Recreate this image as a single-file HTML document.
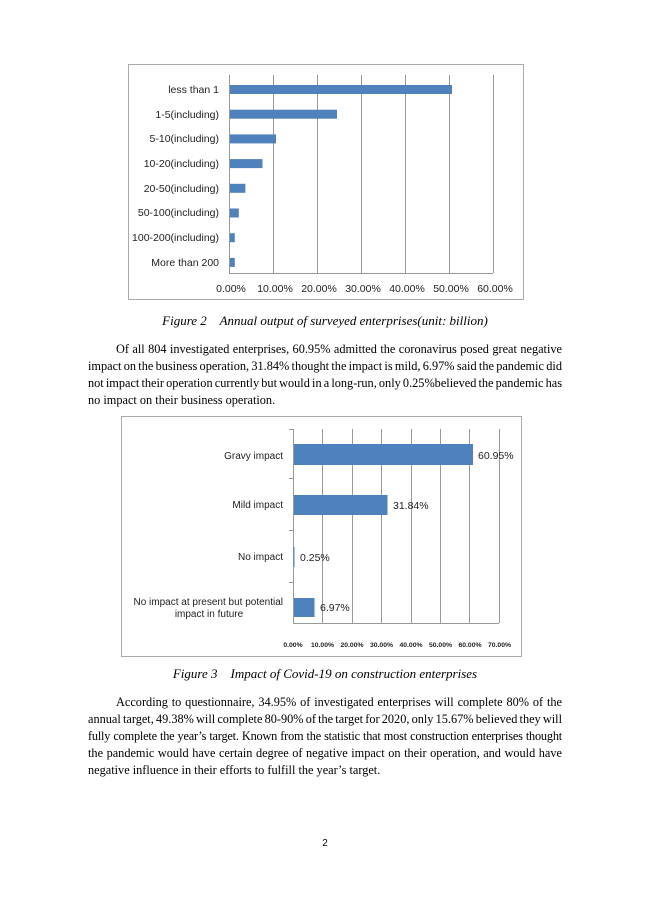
<!DOCTYPE html>
<html><head><meta charset="utf-8"><style>
body{margin:0;width:650px;height:919px;background:#fff;position:relative;overflow:hidden;font-family:"Liberation Serif",serif;color:#000}
.l{position:absolute;left:88px;width:474px;height:16px;overflow:visible;font-size:12.3px;word-spacing:-1.5px;line-height:16px;text-align:justify;text-align-last:justify;white-space:normal}
.l.e{text-align-last:left;word-spacing:0}
.c{position:absolute;left:0;width:650px;text-align:center;font-size:13px;font-style:italic;line-height:16px}
svg{position:absolute;left:0;top:0}
svg text{font-family:"Liberation Sans",sans-serif;fill:#222}
</style></head><body>
<svg width="650" height="919">
<rect x="128.5" y="64.5" width="395" height="235" fill="#fff" stroke="#aaa"/>
<g stroke="#999" stroke-width="1">
<line x1="229.5" y1="75" x2="229.5" y2="273"/>
<line x1="273.5" y1="75" x2="273.5" y2="273"/>
<line x1="317.5" y1="75" x2="317.5" y2="273"/>
<line x1="361.5" y1="75" x2="361.5" y2="273"/>
<line x1="405.5" y1="75" x2="405.5" y2="273"/>
<line x1="449.5" y1="75" x2="449.5" y2="273"/>
<line x1="493.5" y1="75" x2="493.5" y2="273"/>
<line x1="229" y1="273.5" x2="493" y2="273.5"/>
</g>
<g fill="#4f81bd">
<rect x="230" y="85" width="222" height="9"/>
<rect x="230" y="109.7" width="107" height="9"/>
<rect x="230" y="134.4" width="46" height="9"/>
<rect x="230" y="159.1" width="32.5" height="9"/>
<rect x="230" y="183.8" width="15.4" height="9"/>
<rect x="230" y="208.5" width="8.8" height="9"/>
<rect x="230" y="233.2" width="4.8" height="9"/>
<rect x="230" y="257.9" width="4.8" height="9"/>
</g>
<g font-size="10.5" text-anchor="end">
<text x="219" y="93">less than 1</text>
<text x="219" y="118">1-5(including)</text>
<text x="219" y="142">5-10(including)</text>
<text x="219" y="167">10-20(including)</text>
<text x="219" y="192">20-50(including)</text>
<text x="219" y="216">50-100(including)</text>
<text x="219" y="241">100-200(including)</text>
<text x="219" y="266">More than 200</text>
</g>
<g font-size="10.5" text-anchor="middle">
<text x="231" y="292">0.00%</text><text x="275" y="292">10.00%</text><text x="319" y="292">20.00%</text><text x="363" y="292">30.00%</text><text x="407" y="292">40.00%</text><text x="451" y="292">50.00%</text><text x="495" y="292">60.00%</text>
</g>

<rect x="121.5" y="416.5" width="400" height="240" fill="#fff" stroke="#aaa"/>
<g stroke="#999">
<line x1="322.5" y1="429" x2="322.5" y2="623"/>
<line x1="352.5" y1="429" x2="352.5" y2="623"/>
<line x1="381.5" y1="429" x2="381.5" y2="623"/>
<line x1="411.5" y1="429" x2="411.5" y2="623"/>
<line x1="440.5" y1="429" x2="440.5" y2="623"/>
<line x1="469.5" y1="429" x2="469.5" y2="623"/>
<line x1="499.5" y1="429" x2="499.5" y2="623"/>
<line x1="293.5" y1="429" x2="293.5" y2="623"/>
<line x1="293" y1="623.5" x2="499" y2="623.5"/>
<line x1="289" y1="429.5" x2="293" y2="429.5"/>
<line x1="289" y1="478.5" x2="293" y2="478.5"/>
<line x1="289" y1="530.5" x2="293" y2="530.5"/>
<line x1="289" y1="582.5" x2="293" y2="582.5"/>
</g>
<g fill="#4f81bd">
<rect x="294" y="444" width="179" height="21"/>
<rect x="294" y="495" width="93.5" height="20"/>
<rect x="293.5" y="547" width="1" height="20"/>
<rect x="294" y="598" width="20.5" height="19"/>
</g>
<g font-size="10.5">
<text x="478" y="459">60.95%</text>
<text x="393" y="509">31.84%</text>
<text x="300" y="561">0.25%</text>
<text x="320" y="611">6.97%</text>
</g>
<g font-size="10" text-anchor="end">
<text x="283" y="459">Gravy impact</text>
<text x="283" y="508">Mild impact</text>
<text x="283" y="560">No impact</text>
<text x="283" y="605">No impact at present but potential</text>
</g>
<text x="209" y="617" font-size="10" text-anchor="middle">impact in future</text>
<g font-size="6.8" text-anchor="middle" font-weight="bold" style="fill:#333">
<text x="293" y="647">0.00%</text><text x="322.5" y="647">10.00%</text><text x="352" y="647">20.00%</text><text x="381.5" y="647">30.00%</text><text x="411" y="647">40.00%</text><text x="440.5" y="647">50.00%</text><text x="470" y="647">60.00%</text><text x="499.5" y="647">70.00%</text>
</g>
</svg>

<div class="c" style="top:313px">Figure 2&nbsp;&nbsp;&nbsp; Annual output of surveyed enterprises(unit: billion)</div>
<div class="l" style="top:341px;left:116px;width:446px">Of all 804 investigated enterprises, 60.95% admitted the coronavirus posed great negative</div>
<div class="l" style="top:358px">impact on the business operation, 31.84% thought the impact is mild, 6.97% said the pandemic did</div>
<div class="l" style="top:375px">not impact their operation currently but would in a long-run, only 0.25%believed the pandemic has</div>
<div class="l e" style="top:392px">no impact on their business operation.</div>

<div class="c" style="top:666px">Figure 3&nbsp;&nbsp;&nbsp; Impact of Covid-19 on construction enterprises</div>
<div class="l" style="top:694px;left:116px;width:446px">According to questionnaire, 34.95% of investigated enterprises will complete 80% of the</div>
<div class="l" style="top:711px">annual target, 49.38% will complete 80-90% of the target for 2020, only 15.67% believed they will</div>
<div class="l" style="top:728px;letter-spacing:-0.2px">fully complete the year’s target. Known from the statistic that most construction enterprises thought</div>
<div class="l" style="top:745px">the pandemic would have certain degree of negative impact on their operation, and would have</div>
<div class="l e" style="top:762px">negative influence in their efforts to fulfill the year’s target.</div>

<div style="position:absolute;top:838px;left:0;width:650px;text-align:center;font-family:'Liberation Sans',sans-serif;font-size:10px">2</div>
</body></html>
